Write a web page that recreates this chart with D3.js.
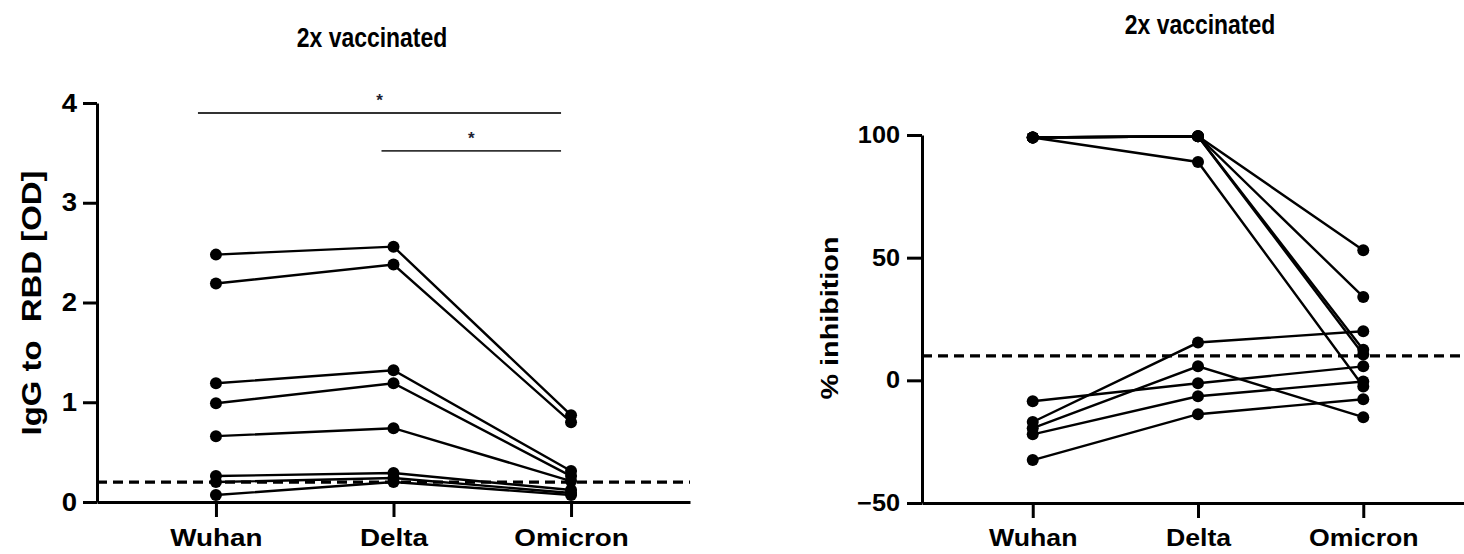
<!DOCTYPE html>
<html>
<head>
<meta charset="utf-8">
<script src="https://cdn.jsdelivr.net/npm/d3@7"></script>
<style>
  html, body { margin: 0; padding: 0; background: #fff; }
  svg { display: block; }
  .tick text { font-family: Arial, "Liberation Sans", Helvetica, sans-serif; font-weight: bold; fill: #000; }
</style>
</head>
<body>
<svg id="chart" width="1464" height="554"></svg>
<script>
// Variant panels on the x axis
const categories = ["Wuhan", "Delta", "Omicron"];

// IgG to RBD [OD], one entry per subject, per variant
const iggWuhan   = [2.48, 2.19, 1.19, 0.99, 0.66, 0.26, 0.20, 0.07];
const iggDelta   = [2.56, 2.38, 1.32, 1.19, 0.74, 0.29, 0.24, 0.20];
const iggOmicron = [0.87, 0.80, 0.31, 0.26, 0.21, 0.12, 0.09, 0.07];
const iggCutoff  = 0.2;
const iggTicks   = [0, 1, 2, 3, 4];

// % inhibition, one entry per subject, per variant
const inhWuhan   = [99, 99, 99, 99, 99, -8.5, -17, -19.5, -22, -32.5];
const inhDelta   = [99.5, 99.5, 99.5, 99.5, 89, -1.2, 15.4, 5.7, -6.5, -13.8];
const inhOmicron = [53, 34, 12.5, 10.5, -2.5, 5.7, 20, -15, -0.5, -7.7];
const inhCutoff  = 10;
const inhTicks   = [-50, 0, 50, 100];

// Pairwise significance brackets on the IgG panel
const sigFrom  = ["Wuhan", "Delta"];
const sigTo    = ["Omicron", "Omicron"];
const sigLevel = [3.9, 3.52];
const sigLabel = ["*", "*"];

const panelTitle = "2x vaccinated";

const svg = d3.select("#chart");
const FONT = 'Arial, "Liberation Sans", Helvetica, sans-serif';

function subjects(a, b, c) {
  return a.map((v, i) => [
    { cat: categories[0], v: a[i] },
    { cat: categories[1], v: b[i] },
    { cat: categories[2], v: c[i] }
  ]);
}

// widen or narrow glyphs horizontally around a fixed anchor x
function stretch(sel, s) {
  sel.each(function () {
    const t = d3.select(this);
    const ax = +t.attr("x") || 0;
    t.attr("transform", `translate(${ax},0) scale(${s},1) translate(${-ax},0)`);
  });
}

function drawPanel(opt) {
  const g = svg.append("g");
  const x = d3.scalePoint().domain(categories).range([opt.x0, opt.x1]).padding(0.67);
  const y = d3.scaleLinear().domain(opt.domain).range([opt.yBottom, opt.yTop]);

  // cutoff line
  g.append("line")
    .attr("x1", opt.x0).attr("x2", opt.x1)
    .attr("y1", y(opt.cutoff)).attr("y2", y(opt.cutoff))
    .attr("stroke", "#000").attr("stroke-width", 3.2)
    .attr("stroke-dasharray", "10,6");

  // paired subject lines
  const line = d3.line().x(d => x(d.cat)).y(d => y(d.v));
  const data = subjects(opt.a, opt.b, opt.c);
  g.selectAll("path.subj").data(data).join("path")
    .attr("class", "subj")
    .attr("d", line)
    .attr("fill", "none")
    .attr("stroke", "#000")
    .attr("stroke-width", 2.4);

  g.selectAll("circle.pt").data(data.flat()).join("circle")
    .attr("class", "pt")
    .attr("cx", d => x(d.cat)).attr("cy", d => y(d.v))
    .attr("r", opt.r).attr("fill", "#000");

  // axes
  const yAxis = g.append("g")
    .attr("transform", `translate(${opt.x0},0)`)
    .call(d3.axisLeft(y).tickValues(opt.ticks).tickFormat(d3.format("d"))
      .tickSize(opt.tickLen).tickSizeOuter(0).tickPadding(opt.tickPad));
  yAxis.selectAll("text").style("font-size", opt.yTickFont + "px").call(stretch, 1.1);
  yAxis.selectAll("line, path").attr("stroke", "#000").attr("stroke-width", 3);

  const xAxis = g.append("g")
    .attr("transform", `translate(0,${opt.yBottom})`)
    .call(d3.axisBottom(x).tickSize(15).tickSizeOuter(0).tickPadding(12));
  xAxis.selectAll("text").style("font-size", opt.xTickFont + "px").call(stretch, 1.16);
  xAxis.selectAll("line, path").attr("stroke", "#000").attr("stroke-width", 3);

  // title
  g.append("text")
    .attr("x", opt.titleX).attr("y", opt.titleY)
    .attr("text-anchor", "middle")
    .style("font-family", FONT)
    .style("font-weight", "bold")
    .style("font-size", "27px")
    .call(stretch, 0.85)
    .text(panelTitle);

  // y label
  g.append("text")
    .attr("transform", `translate(${opt.labelX},${opt.labelY}) rotate(-90)`)
    .attr("text-anchor", "middle")
    .style("font-family", FONT)
    .style("font-weight", "bold")
    .style("font-size", opt.labelFont + "px")
    .attr("textLength", opt.labelLen)
    .attr("lengthAdjust", "spacingAndGlyphs")
    .attr("xml:space", "preserve")
    .text(opt.label);

  return { g, x, y };
}

const left = drawPanel({
  x0: 97, x1: 690, yBottom: 502, yTop: 103,
  domain: [0, 4], ticks: iggTicks, cutoff: iggCutoff,
  a: iggWuhan, b: iggDelta, c: iggOmicron, r: 6,
  tickLen: 14, tickPad: 6, yTickFont: 25, xTickFont: 24,
  titleX: 372, titleY: 47,
  label: "IgG to  RBD [OD]", labelX: 41, labelY: 303, labelFont: 28, labelLen: 265
});

// significance brackets
sigFrom.forEach((f, i) => {
  const x1 = left.x(f) - (i === 0 ? 18 : 12);
  const x2 = left.x(sigTo[i]) - 10;
  const yy = left.y(sigLevel[i]);
  left.g.append("line")
    .attr("x1", x1).attr("x2", x2).attr("y1", yy).attr("y2", yy)
    .attr("stroke", "#333").attr("stroke-width", 1.8);
  left.g.append("text")
    .attr("x", (x1 + x2) / 2).attr("y", yy - 7)
    .attr("text-anchor", "middle")
    .style("font-family", FONT).style("font-weight", "bold")
    .style("font-size", "17px").attr("fill", "#223")
    .text(sigLabel[i]);
});

drawPanel({
  x0: 922, x1: 1474, yBottom: 503, yTop: 135,
  domain: [-50, 100], ticks: inhTicks, cutoff: inhCutoff,
  a: inhWuhan, b: inhDelta, c: inhOmicron, r: 6,
  tickLen: 15, tickPad: 7, yTickFont: 23, xTickFont: 23,
  titleX: 1200, titleY: 34,
  label: "% inhibition", labelX: 838, labelY: 318, labelFont: 24, labelLen: 163
});
</script>
</body>
</html>
